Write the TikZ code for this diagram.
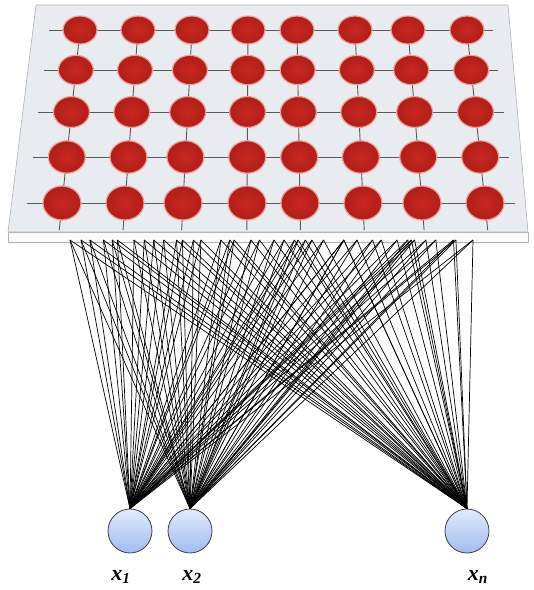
\documentclass[tikz,border=0pt]{standalone}
\usepackage{fontspec}
\setmainfont{Liberation Serif}
\usetikzlibrary{shapes.geometric,calc}
\pgfdeclarelayer{plane}
\pgfdeclarelayer{grid}
\pgfsetlayers{plane,grid,main}
\definecolor{planefill}{RGB}{232,236,240}
\definecolor{planeedge}{RGB}{175,180,185}
\definecolor{redin}{RGB}{200,40,32}
\definecolor{redout}{RGB}{176,30,26}
\definecolor{halo}{RGB}{238,160,150}
\definecolor{bluetop}{RGB}{226,234,252}
\definecolor{bluebot}{RGB}{160,188,238}
\tikzset{
  neuron/.style={ellipse, inner sep=0pt, draw=halo, line width=1.2pt, inner color=redin, outer color=redout},
  inputnode/.style={circle, minimum size=44pt, inner sep=0pt, draw=black!75, line width=0.8pt, top color=bluetop, bottom color=bluebot},
  gridline/.style={draw=black!65, line width=0.9pt},
  wire/.style={draw=black, line width=0.7pt},
  lbl/.style={font=\fontsize{22}{24}\selectfont\bfseries\itshape, inner sep=0pt}
}
\begin{document}
\begin{tikzpicture}[x=1pt,y=1pt]
\useasboundingbox (0,0) rectangle (534,-590);
\pgfmathsetseed{12345}
% plane
\begin{pgfonlayer}{plane}
\fill[white!96!gray, draw=planeedge, line width=0.6pt] (8,-232) -- (528,-232) -- (528,-242) -- (8,-242) -- cycle;
\fill[planefill, draw=planeedge, line width=0.6pt] (36,-5) -- (508,-5) -- (528,-232) -- (8,-232) -- cycle;
\end{pgfonlayer}
% neurons
\foreach \c/\xt/\xb in {1/80/62,2/138/125,3/192/183,4/248/247,5/297/300,6/355/363,7/408/422,8/467/485}{
  \foreach \r/\y/\t in {1/30/0,2/70/0.23,3/112/0.474,4/157/0.734,5/203/1}{
    \pgfmathsetmacro\xx{\xt+(\xb-\xt)*\t}
    \pgfmathsetmacro\ww{34+4*\t}
    \pgfmathsetmacro\hh{28+6*\t}
    \pgfmathsetmacro\bx{72+((\c-1)*5+\r-1)*401/39+7*rand}
    \node[neuron, minimum width=\ww pt, minimum height=\hh pt] (n-\r-\c) at (\xx,-\y) {};
    \coordinate (b-\r-\c) at (\bx,-240);
  }
  \pgfmathsetmacro\vx{\xb+(\xb-\xt)*0.15}
  \coordinate (v-\c) at (\vx,-230);
}
\coordinate (b-1-1) at (70,-240);
\coordinate (b-5-8) at (473,-240);
% grid lines
\begin{pgfonlayer}{grid}
\foreach \r/\d in {1/16,2/17,3/18,4/19,5/20}{
  \draw[gridline] ($(n-\r-1.center)+(-\d-15,0)$) -- ($(n-\r-8.center)+(\d+10,0)$);
}
\foreach \c in {1,...,8}{
  \draw[gridline] (n-1-\c.center) -- (n-2-\c.center) -- (n-3-\c.center) -- (n-4-\c.center) -- (n-5-\c.center) -- (v-\c);
}
\end{pgfonlayer}
% inputs
\node[inputnode] (x1) at (130,-531) {};
\node[inputnode] (x2) at (190,-531) {};
\node[inputnode] (xn) at (467,-531) {};
\node[lbl] (l1) at (121,-577) {x\textsubscript{1}};
\node[lbl] (l2) at (192,-577) {x\textsubscript{2}};
\node[lbl] (ln) at (478,-577) {x\textsubscript{n}};
% connections
\foreach \i in {x1,x2,xn}{
  \foreach \c in {1,...,8}{
    \foreach \r in {1,...,5}{
      \draw[wire] (\i.north) -- (b-\r-\c);
    }
  }
}
\end{tikzpicture}
\end{document}
